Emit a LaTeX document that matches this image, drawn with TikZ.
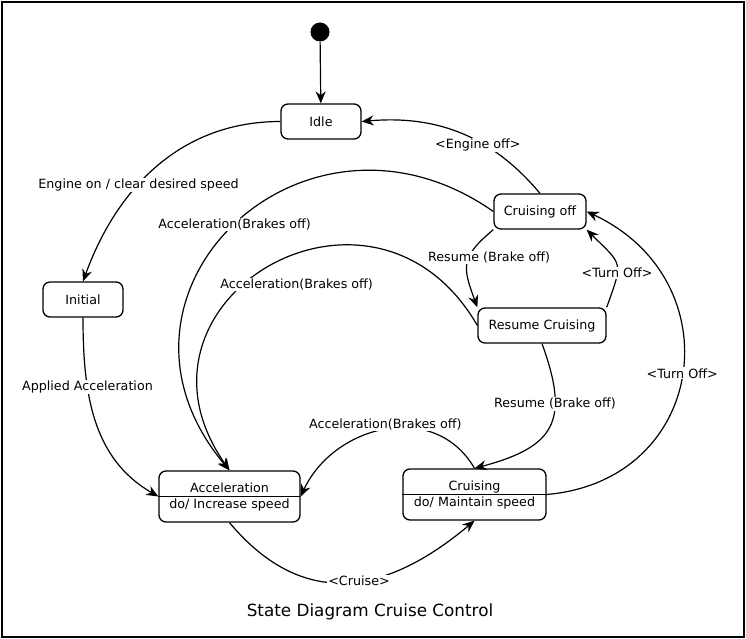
\documentclass[tikz,border=0pt]{standalone}
\usepackage{fontspec}
\setmainfont{DejaVu Sans}
\usetikzlibrary{arrows.meta}

\begin{document}
\begin{tikzpicture}[x=1pt, y=1pt,
    txt/.style={font=\fontsize{12.7}{16}\selectfont},
    state/.style={txt, draw, line width=1.3pt, rounded corners=7pt, minimum height=35pt, inner sep=0pt},
    split/.style={state, minimum height=51pt, align=center},
    trans/.style={line width=1.2pt, -{Stealth[length=12pt, width=10pt]}},
    lbl/.style={txt, fill=white, inner sep=1pt}]

    \useasboundingbox (0,0) rectangle (746,-639);

    % Frame
    \draw[line width=1.5pt] (2,-2) rectangle (744,-637);

    % Start point
    \node[circle, fill=black, minimum size=19pt, inner sep=0pt] (start) at (320,-32) {};

    % States
    \node[state, minimum width=80pt] (idle) at (321,-121.5) {Idle};
    \node[state, minimum width=80pt] (init) at (83,-299.5) {Initial};
    \node[state, minimum width=92pt] (coff) at (540,-211.5) {Cruising off};
    \node[state, minimum width=128pt] (rc) at (542,-325.5) {Resume Cruising};
    \node[split, minimum width=141pt] (acc) at (229.5,-496.5) {Acceleration\\do/ Increase speed};
    \node[split, minimum width=143pt] (crs) at (474.5,-494.5) {Cruising\\do/ Maintain speed};

    % Compartment lines
    \draw[line width=1.3pt] (acc.west) -- (acc.east);
    \draw[line width=1.3pt] (crs.west) -- (crs.east);

    % Big arcs first
    \draw[trans] (coff.west) to[out=145, in=130, looseness=1.6] node[lbl, pos=0.5] {Acceleration(Brakes off)} (acc.north);
    \draw[trans] (rc.west) to[out=120, in=125, looseness=1.85] node[lbl, pos=0.57, xshift=52pt] {Acceleration(Brakes off)} (acc.north);
    \draw[trans] (crs.east) to[out=5, in=-25, looseness=1.45] node[lbl, pos=0.5] {<Turn Off>} (coff.east);

    % Transitions
    \draw[trans] (start) -- (idle);
    \draw[trans] (idle.west) to[out=180, in=70] node[lbl, pos=0.6] {Engine on / clear desired speed} (init.north);
    \draw[trans] (init.south) to[out=-90, in=150] node[lbl, pos=0.32] {Applied Acceleration} (acc.west);
    \draw[trans] (coff.north) to[out=130, in=5] node[lbl, pos=0.4, yshift=-4pt] {<Engine off>} (idle.east);
    \draw[trans] (coff.south west) to[out=220, in=110, looseness=1.4] node[lbl, pos=0.4, xshift=20pt] {Resume (Brake off)} (rc.north west);
    \draw[trans] (rc.north east) to[out=70, in=-45, looseness=1.6] node[lbl, pos=0.35] {<Turn Off>} (coff.south east);
    \draw[trans] (rc.south) to[out=-70, in=15, looseness=1.5] node[lbl, pos=0.32] {Resume (Brake off)} (crs.north);
    \draw[trans] (crs.north) to[out=120, in=65, looseness=1.15] node[lbl, pos=0.5, yshift=5pt] {Acceleration(Brakes off)} (acc.east);
    \draw[trans] (acc.south) to[out=-50, in=-140, looseness=1.2] node[lbl, pos=0.55] {<Cruise>} (crs.south);

    % Title
    \node[font=\fontsize{16.8}{20}\selectfont] (title) at (370,-612) {State Diagram Cruise Control};
\end{tikzpicture}
\end{document}
